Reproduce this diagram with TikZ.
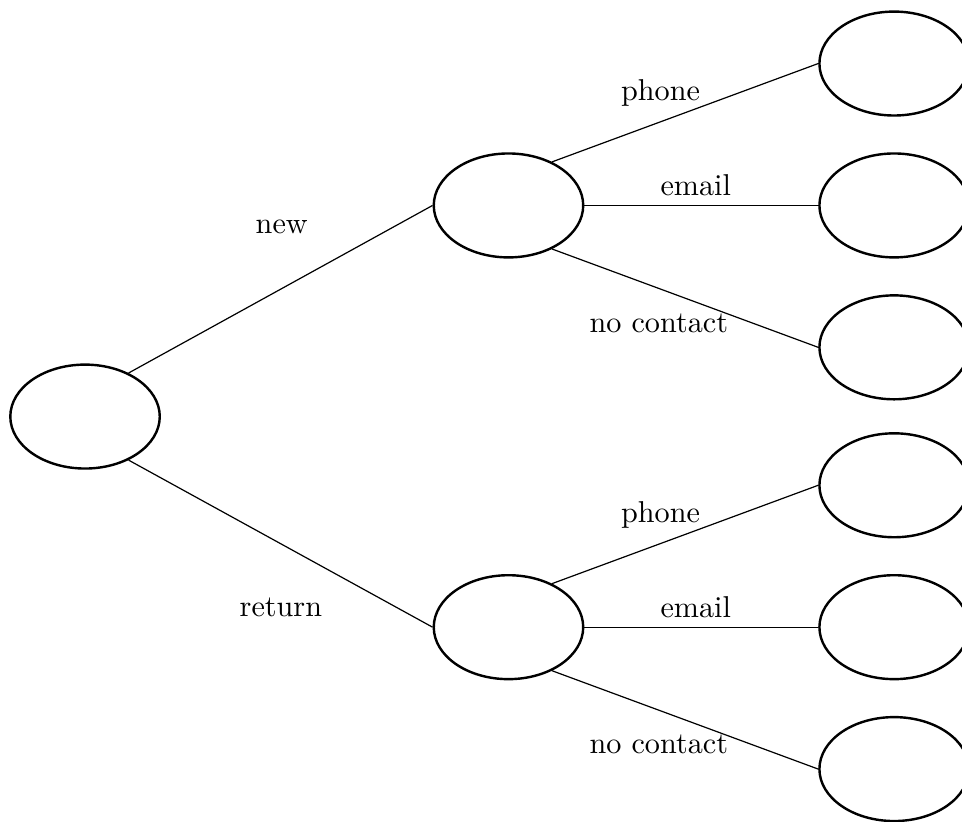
\documentclass[tikz,border=0pt]{standalone}
\usetikzlibrary{shapes.geometric}

\begin{document}
\begin{tikzpicture}[blob/.style={ellipse,draw,thick,minimum width=1.74cm,minimum height=1.21cm,inner sep=0pt}]

\clip (0,0) rectangle (11.2,9.56);

\node[blob] (root) at (0.99,4.71) {};

\node[blob] (newc) at (5.92,7.168) {};
\node[blob] (retc) at (5.92,2.258) {};

\node[blob] (newphone) at (10.41,8.82) {};
\node[blob] (newemail) at (10.41,7.168) {};
\node[blob] (newnone) at (10.41,5.516) {};

\node[blob] (retphone) at (10.41,3.91) {};
\node[blob] (retemail) at (10.41,2.258) {};
\node[blob] (retnone) at (10.41,0.606) {};

\draw (root.45) -- (newc.west);
\draw (root.-45) -- (retc.west);

\draw (newc.45) -- (newphone.west);
\draw (newc.east) -- (newemail.west);
\draw (newc.-45) -- (newnone.west);

\draw (retc.45) -- (retphone.west);
\draw (retc.east) -- (retemail.west);
\draw (retc.-45) -- (retnone.west);

\node (lnew) at (3.28,6.92) {new};
\node (lret) at (3.27,2.49) {return};

\node (lnewphone) at (7.69,8.48) {phone};
\node (lnewemail) at (8.10,7.40) {email};
\node (lnewnone) at (7.67,5.80) {no contact};

\node (lretphone) at (7.69,3.57) {phone};
\node (lretemail) at (8.10,2.49) {email};
\node (lretnone) at (7.67,0.89) {no contact};

\end{tikzpicture}
\end{document}
